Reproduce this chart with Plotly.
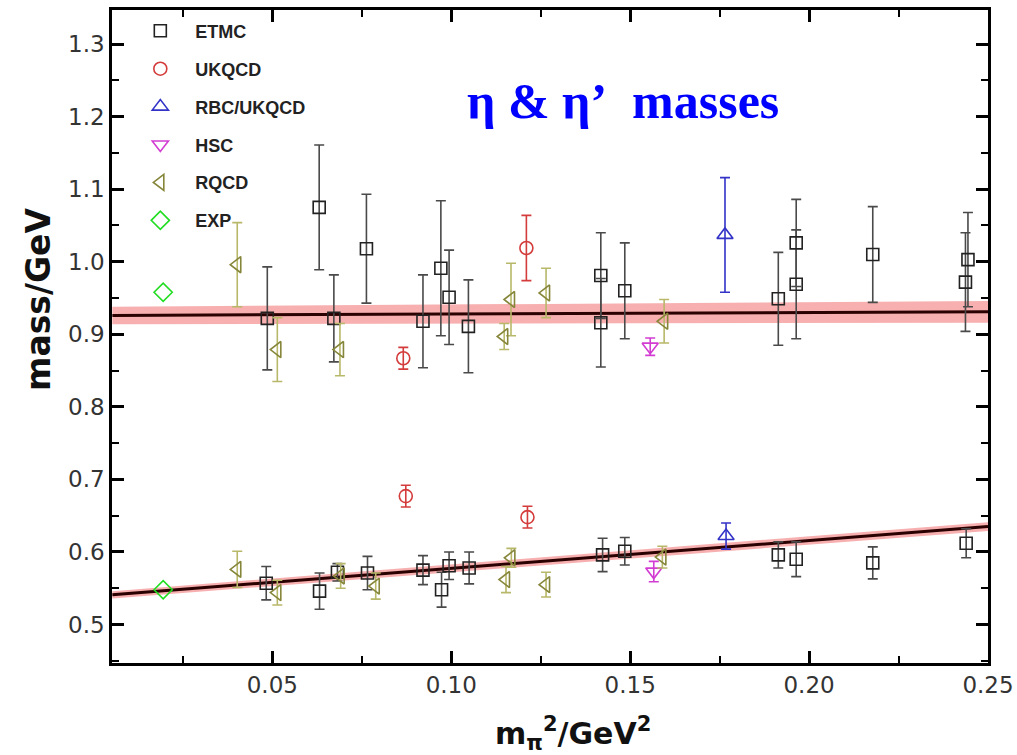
import plotly.graph_objects as go

# ---------------- data ----------------
etmc_x = [0.0486, 0.0631, 0.0672, 0.0763, 0.0921, 0.0971, 0.0994, 0.1048, 0.1418, 0.1418,
          0.1485, 0.1914, 0.1964, 0.1964, 0.2178, 0.2444, 0.2437,
          0.0483, 0.0632, 0.0682, 0.0766, 0.0921, 0.0973, 0.0994, 0.1050,
          0.1423, 0.1485, 0.1914, 0.1964, 0.2178, 0.2439]
etmc_y = [0.922, 1.075, 0.922, 1.018, 0.918, 0.991, 0.951, 0.911, 0.981, 0.916,
          0.960, 0.949, 1.026, 0.969, 1.010, 1.003, 0.972,
          0.557, 0.546, 0.572, 0.571, 0.575, 0.548, 0.581, 0.578,
          0.596, 0.601, 0.596, 0.590, 0.585, 0.612]
etmc_err = [0.071, 0.086, 0.060, 0.075, 0.064, 0.093, 0.065, 0.064, 0.059, 0.061,
            0.066, 0.064, 0.060, 0.075, 0.066, 0.065, 0.068,
            0.023, 0.025, 0.012, 0.023, 0.020, 0.024, 0.019, 0.022,
            0.023, 0.019, 0.018, 0.024, 0.022, 0.020]

ukqcd_x = [0.0866, 0.1210, 0.0873, 0.1213]
ukqcd_y = [0.867, 1.019, 0.677, 0.648]
ukqcd_err = [0.015, 0.045, 0.015, 0.015]

rbc_x = [0.1765, 0.1768]
rbc_y = [1.037, 0.622]
rbc_err = [0.079, 0.018]

hsc_x = [0.1556, 0.1566]
hsc_y = [0.883, 0.573]
hsc_err = [0.012, 0.014]

rqcd_x = [0.0402, 0.0514, 0.0689, 0.1167, 0.1148, 0.1265, 0.1595,
          0.0402, 0.0514, 0.0691, 0.0789, 0.1153, 0.1168, 0.1265, 0.1590]
rqcd_y = [0.996, 0.879, 0.879, 0.948, 0.897, 0.957, 0.918,
          0.576, 0.544, 0.567, 0.553, 0.562, 0.592, 0.555, 0.593]
rqcd_err = [0.058, 0.044, 0.036, 0.050, 0.018, 0.034, 0.030,
            0.025, 0.017, 0.017, 0.018, 0.018, 0.013, 0.017, 0.015]

exp_x = [0.0195, 0.0195]
exp_y = [0.548, 0.958]

fit_x = [0.0053, 0.25]
etap_fit = [0.926, 0.931]
etap_band = [0.012, 0.015]
eta_fit = [0.541, 0.635]
eta_band = [0.005, 0.006]

x_ticks = [0.05, 0.10, 0.15, 0.20, 0.25]
y_ticks = [0.5, 0.6, 0.7, 0.8, 0.9, 1.0, 1.1, 1.2, 1.3]

# ---------------- figure ----------------
fig = go.Figure()

band_color = "rgba(240,110,110,0.55)"
line_color = "#2a0000"


def add_fit(center, half):
    lo = [c - h for c, h in zip(center, half)]
    hi = [c + h for c, h in zip(center, half)]
    fig.add_trace(go.Scatter(x=fit_x, y=lo, mode="lines", line=dict(width=0),
                             showlegend=False, hoverinfo="skip"))
    fig.add_trace(go.Scatter(x=fit_x, y=hi, mode="lines", line=dict(width=0),
                             fill="tonexty", fillcolor=band_color,
                             showlegend=False, hoverinfo="skip"))
    fig.add_trace(go.Scatter(x=fit_x, y=center, mode="lines",
                             line=dict(color=line_color, width=3),
                             showlegend=False, hoverinfo="skip"))


add_fit(etap_fit, etap_band)
add_fit(eta_fit, eta_band)


def add_series(name, xs, ys, errs, symbol, color, ecolor, size, group):
    fig.add_trace(go.Scatter(
        x=xs, y=ys, mode="markers", name="<b>%s</b>" % name,
        legendgroup=group,
        marker=dict(symbol=symbol, size=size, color=color,
                    line=dict(color=color, width=1.6)),
        error_y=(dict(type="data", array=errs, visible=True, color=ecolor,
                      thickness=1.6, width=5) if errs is not None else None),
    ))


add_series("ETMC", etmc_x, etmc_y, etmc_err, "square-open", "#222222", "#4a4a4a", 12, "g1")
add_series("UKQCD", ukqcd_x, ukqcd_y, ukqcd_err, "circle-open", "#d43c3c", "#d43c3c", 13, "g2")
add_series("RBC/UKQCD", rbc_x, rbc_y, rbc_err, "triangle-up-open", "#3333c8", "#3333c8", 14, "g3")
add_series("HSC", hsc_x, hsc_y, hsc_err, "triangle-down-open", "#d23cd2", "#d23cd2", 14, "g4")
add_series("RQCD", rqcd_x, rqcd_y, rqcd_err, "triangle-left-open", "#86863a", "#b8b86a", 14, "g5")
add_series("EXP", exp_x, exp_y, None, "diamond-open", "#22dd22", None, 14, "g6")

axis_common = dict(
    showline=True, linecolor="black", linewidth=2.5, mirror="ticks",
    ticks="inside", ticklen=12, tickwidth=2.5, tickcolor="black",
    showgrid=False, zeroline=False, automargin=False,
    tickfont=dict(family="DejaVu Sans", size=23, color="#333333"),
)

fig.update_xaxes(range=[0.0052, 0.25], tickvals=x_ticks, tickformat=".2f",
                 minor=dict(ticks="inside", ticklen=7, tickwidth=2, tickcolor="black",
                            dtick=0.025, tick0=0.025),
                 **axis_common)
fig.update_yaxes(range=[0.447, 1.347], tickvals=y_ticks, tickformat=".1f",
                 minor=dict(ticks="inside", ticklen=7, tickwidth=2, tickcolor="black",
                            dtick=0.05, tick0=0.45),
                 **axis_common)

fig.add_annotation(text="<b>η & η’\u00a0\u00a0masses</b>", xref="paper", yref="paper",
                   x=(623 - 112) / 876, y=1 - (101 - 10) / 653, showarrow=False,
                   xanchor="center", yanchor="middle",
                   font=dict(family="Liberation Serif, Times New Roman", size=50, color="#0000ff"))
fig.add_annotation(text="<b>mass/GeV</b>", xref="paper", yref="paper",
                   x=(38 - 112) / 876, y=1 - (300 - 10) / 653, showarrow=False, textangle=-90,
                   xanchor="center", yanchor="middle",
                   font=dict(family="DejaVu Sans", size=33, color="#111111"))
fig.add_annotation(text="<b>m<sub>π</sub><sup>2</sup>/GeV<sup>2</sup></b>", xref="paper", yref="paper",
                   x=(573 - 112) / 876, y=-(733 - 663) / 653, showarrow=False,
                   xanchor="center", yanchor="middle",
                   font=dict(family="DejaVu Sans", size=30, color="#111111"))

fig.update_layout(
    width=1017, height=755,
    margin=dict(l=112, r=29, t=10, b=92),
    paper_bgcolor="white", plot_bgcolor="white",
    legend=dict(x=0.0152, y=0.996, xanchor="left", yanchor="top",
                bgcolor="rgba(0,0,0,0)", tracegroupgap=11.5, itemwidth=60,
                font=dict(family="Liberation Sans, Arial", size=18, color="#222222")),
)

fig.write_html("out.html", config={"displayModeBar": False},
               post_script="document.body.style.margin='0px';")
